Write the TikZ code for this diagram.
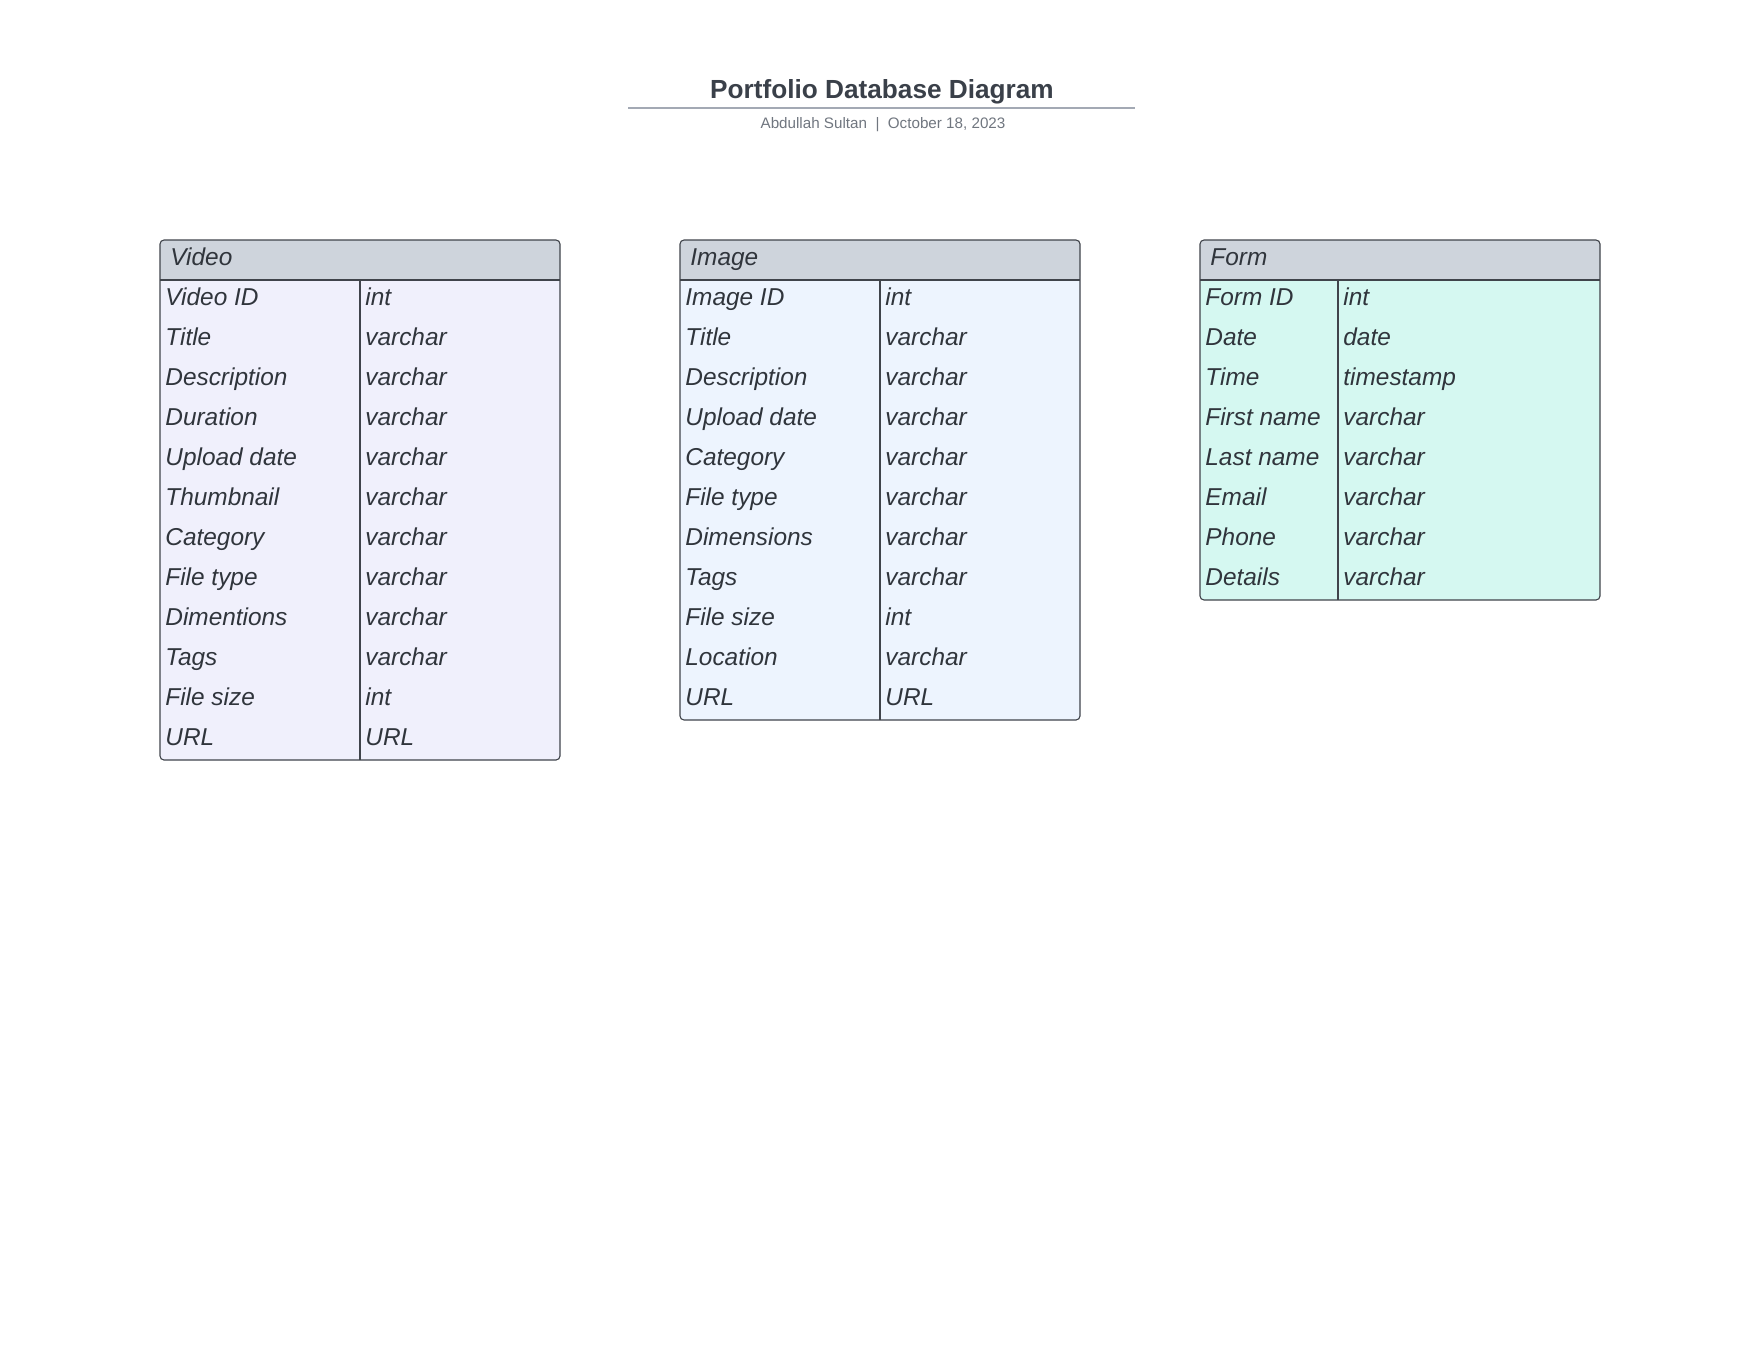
\documentclass[tikz,border=0pt]{standalone}
\usepackage{fontspec}
\setmainfont{Liberation Sans}
\usetikzlibrary{positioning,calc}

\definecolor{inkdark}{HTML}{30353C}
\definecolor{titleink}{HTML}{3A4049}
\definecolor{subink}{HTML}{70767F}
\definecolor{rulegray}{HTML}{A3A9B4}
\definecolor{edgegray}{HTML}{40444B}
\definecolor{headgray}{HTML}{CED4DC}
\definecolor{videofill}{HTML}{F0F0FC}
\definecolor{imagefill}{HTML}{EDF4FE}
\definecolor{formfill}{HTML}{D5F8F1}

\tikzset{
  fieldtext/.style={anchor=base west, inner sep=0pt, text=inkdark,
    font=\itshape\fontsize{12.2}{14}\selectfont},
  headtext/.style={fieldtext},
  frame/.style={draw=edgegray, line width=0.55pt},
  divider/.style={draw=edgegray, line width=0.55pt}
}

\begin{document}
\begin{tikzpicture}[x=0.5pt, y=-0.5pt]
  \useasboundingbox (0,0) rectangle (1760,1360);

  % title block
  \node[text=titleink, font=\bfseries\fontsize{13.1}{15}\selectfont] (title) at (882,92) {Portfolio Database Diagram};
  \coordinate (ruleL) at (628,108);
  \coordinate (ruleR) at (1135,108);
  \draw[rulegray, line width=0.7pt] (ruleL) -- (ruleR);
  \node[text=subink, font=\fontsize{7.6}{9}\selectfont] (byline) at (883,125) {Abdullah Sultan\ \ |\ \ October 18, 2023};

  % Video table
  \fill[videofill, rounded corners=2pt] (160,240) rectangle (560,760);
  \fill[headgray, rounded corners=2pt] (160,240) rectangle (560,280);
  \fill[headgray] (160,262) rectangle (560,280);
  \draw[divider] (160,280) -- (560,280) (360,280) -- (360,760);
  \draw[frame, rounded corners=2pt] (160,240) rectangle (560,760);
  \node[headtext] (video) at (170,265.5) {Video};
  \foreach \fld/\typ [count=\i] in {Video ID/int, Title/varchar, Description/varchar,
      Duration/varchar, Upload date/varchar, Thumbnail/varchar, Category/varchar,
      File type/varchar, Dimentions/varchar, Tags/varchar, File size/int, URL/URL} {
    \node[fieldtext] (vname\i) at (165,{265+40*\i}) {\fld};
    \node[fieldtext] (vtype\i) at (365,{265+40*\i}) {\typ};
  }

  % Image table
  \fill[imagefill, rounded corners=2pt] (680,240) rectangle (1080,720);
  \fill[headgray, rounded corners=2pt] (680,240) rectangle (1080,280);
  \fill[headgray] (680,262) rectangle (1080,280);
  \draw[divider] (680,280) -- (1080,280) (880,280) -- (880,720);
  \draw[frame, rounded corners=2pt] (680,240) rectangle (1080,720);
  \node[headtext] (image) at (690,265.5) {Image};
  \foreach \fld/\typ [count=\i] in {Image ID/int, Title/varchar, Description/varchar,
      Upload date/varchar, Category/varchar, File type/varchar, Dimensions/varchar,
      Tags/varchar, File size/int, Location/varchar, URL/URL} {
    \node[fieldtext] (iname\i) at (685,{265+40*\i}) {\fld};
    \node[fieldtext] (itype\i) at (885,{265+40*\i}) {\typ};
  }

  % Form table
  \fill[formfill, rounded corners=2pt] (1200,240) rectangle (1600,600);
  \fill[headgray, rounded corners=2pt] (1200,240) rectangle (1600,280);
  \fill[headgray] (1200,262) rectangle (1600,280);
  \draw[divider] (1200,280) -- (1600,280) (1338,280) -- (1338,600);
  \draw[frame, rounded corners=2pt] (1200,240) rectangle (1600,600);
  \node[headtext] (form) at (1210,265.5) {Form};
  \foreach \fld/\typ [count=\i] in {Form ID/int, Date/date, Time/timestamp,
      First name/varchar, Last name/varchar, Email/varchar, Phone/varchar, Details/varchar} {
    \node[fieldtext] (fname\i) at (1205,{265+40*\i}) {\fld};
    \node[fieldtext] (ftype\i) at (1343,{265+40*\i}) {\typ};
  }
\end{tikzpicture}
\end{document}
